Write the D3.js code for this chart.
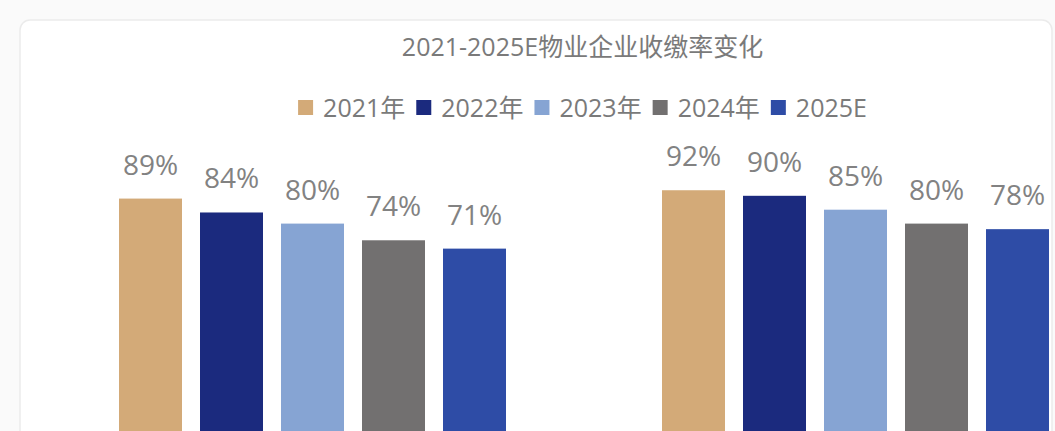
<!DOCTYPE html>
<html>
<head>
<meta charset="utf-8">
<script src="https://cdn.jsdelivr.net/npm/d3@7"></script>
<style>
  body { margin: 0; background: #fafafa; }
  svg { display: block; font-family: "Open Sans", "Noto Sans CJK SC", sans-serif; }
</style>
</head>
<body>
<svg id="svg" width="1055" height="431"></svg>
<script>
// data
var categories = ['组一', '组二'];
var years = ['2021年', '2022年', '2023年', '2024年', '2025E'];
var values2021 = [89, 92];
var values2022 = [84, 90];
var values2023 = [80, 85];
var values2024 = [74, 80];
var values2025 = [71, 78];
var colors = ['#d3aa78', '#1b2a7e', '#86a4d3', '#727070', '#2e4ca6'];
var title = '2021-2025E物业企业收缴率变化';

var seriesValues = [values2021, values2022, values2023, values2024, values2025];

var svg = d3.select('svg');

// card
svg.append('rect')
  .attr('x', 20).attr('y', 20)
  .attr('width', 1032).attr('height', 460)
  .attr('rx', 10)
  .attr('fill', '#ffffff')
  .attr('stroke', '#ebebeb')
  .attr('stroke-width', 1.5);

var centerX = 582.5;

// scales
var x0 = d3.scaleBand()
  .domain(categories)
  .range([41, 1127]);

var x1 = d3.scaleBand()
  .domain(years)
  .range([0, 405])
  .paddingInner(18 / 81)
  .paddingOuter(9 / 81);

var yScale = d3.scaleLinear()
  .domain([0, 100])
  .range([446, 168]);

var groupOffset = (x0.bandwidth() - 405) / 2;

var chart = svg.append('g');

var groups = chart.selectAll('.group')
  .data(categories)
  .enter()
  .append('g')
  .attr('class', 'group')
  .attr('transform', (c) => `translate(${x0(c) + groupOffset}, 0)`);

groups.each(function (c, ci) {
  var g = d3.select(this);
  var rows = years.map((yr, i) => ({ year: yr, value: seriesValues[i][ci], color: colors[i] }));

  g.selectAll('rect')
    .data(rows)
    .enter()
    .append('rect')
    .attr('x', (d) => x1(d.year))
    .attr('y', (d) => yScale(d.value))
    .attr('width', x1.bandwidth())
    .attr('height', (d) => yScale(0) - yScale(d.value))
    .attr('fill', (d) => d.color);

  g.selectAll('.value')
    .data(rows)
    .enter()
    .append('text')
    .attr('class', 'value')
    .attr('x', (d) => x1(d.year) + x1.bandwidth() / 2)
    .attr('y', (d) => yScale(d.value) - 24)
    .attr('text-anchor', 'middle')
    .attr('fill', '#828282')
    .style('font-size', '28px')
    .text((d) => d.value + '%');
});

// title
svg.append('text')
  .attr('x', centerX)
  .attr('y', 56)
  .attr('text-anchor', 'middle')
  .attr('fill', '#7a7a7a')
  .style('font-size', '25px')
  .text(title);

// legend
var legend = svg.append('g');
var lx = 0;
years.forEach(function (yr, i) {
  legend.append('rect')
    .attr('x', lx)
    .attr('y', 100)
    .attr('width', 15)
    .attr('height', 15)
    .attr('fill', colors[i]);
  var t = legend.append('text')
    .attr('x', lx + 25)
    .attr('y', 117)
    .attr('fill', '#7a7a7a')
    .style('font-size', '25px')
    .text(yr);
  lx += 25 + t.node().getComputedTextLength() + 11;
});
var legendW = lx - 11;
legend.attr('transform', `translate(${centerX - legendW / 2}, 0)`);
</script>
</body>
</html>
